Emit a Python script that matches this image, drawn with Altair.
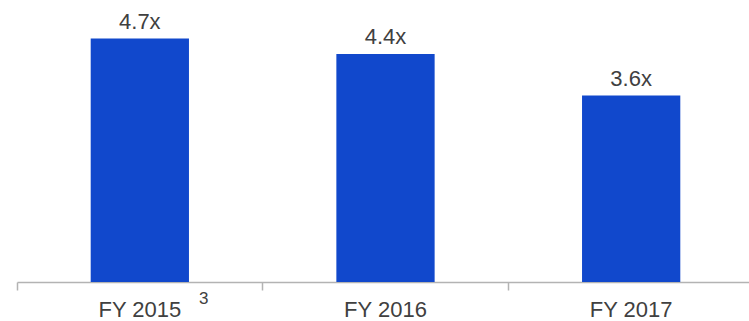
import altair as alt
import pandas as pd

# Leverage multiple by fiscal year
years = ["FY 2015", "FY 2016", "FY 2017"]
multiples = [4.7, 4.4, 3.6]
labels = ["4.7x", "4.4x", "3.6x"]
footnotes = ["3", "", ""]

df = pd.DataFrame({"year": years, "value": multiples, "label": labels, "note": footnotes})

FONT = "Liberation Sans"
BLUE = "#1148CC"
TEXT = "#404040"

RANGE = 737
PAD_INNER = 0.6
PAD_OUTER = 0.3
step = RANGE / (len(years) - PAD_INNER + 2 * PAD_OUTER)
bandwidth = step * (1 - PAD_INNER)
# ticks sit on the cell boundaries; labels stay centred on the bars
tick_pos = -(PAD_OUTER * step) / bandwidth

x = alt.X(
    "year:N",
    sort=years,
    scale=alt.Scale(range=[0, RANGE], paddingInner=PAD_INNER, paddingOuter=PAD_OUTER),
    axis=alt.Axis(
        title=None,
        labelAngle=0,
        labelFont=FONT,
        labelFontSize=22,
        labelColor=TEXT,
        labelPadding=9,
        bandPosition=tick_pos,
        domainColor="#B3B3B3",
        domainWidth=1.5,
        tickColor="#B3B3B3",
        tickWidth=1.5,
        tickSize=8,
        grid=False,
    ),
)
y = alt.Y("value:Q", scale=alt.Scale(domain=[0, 5], nice=False), axis=None)

bars = alt.Chart(df).mark_bar(color=BLUE).encode(x=x, y=y)

values = alt.Chart(df).mark_text(
    font=FONT, fontSize=22, color=TEXT, baseline="alphabetic", dy=-10
).encode(x=x, y=y, text="label:N")

notes = alt.Chart(df).mark_text(
    font=FONT, fontSize=17, color=TEXT, baseline="alphabetic", dx=64
).encode(x=x, y=alt.value(281), text="note:N")

chart = (
    alt.layer(bars, values, notes)
    .properties(
        width=732,
        height=259,
        background="white",
        autosize=alt.AutoSizeParams(type="none"),
        padding={"left": 17, "top": 23, "right": 0, "bottom": 39},
    )
    .configure_view(strokeWidth=0)
)

chart.save("out.html", embed_options={"renderer": "svg", "actions": False})
